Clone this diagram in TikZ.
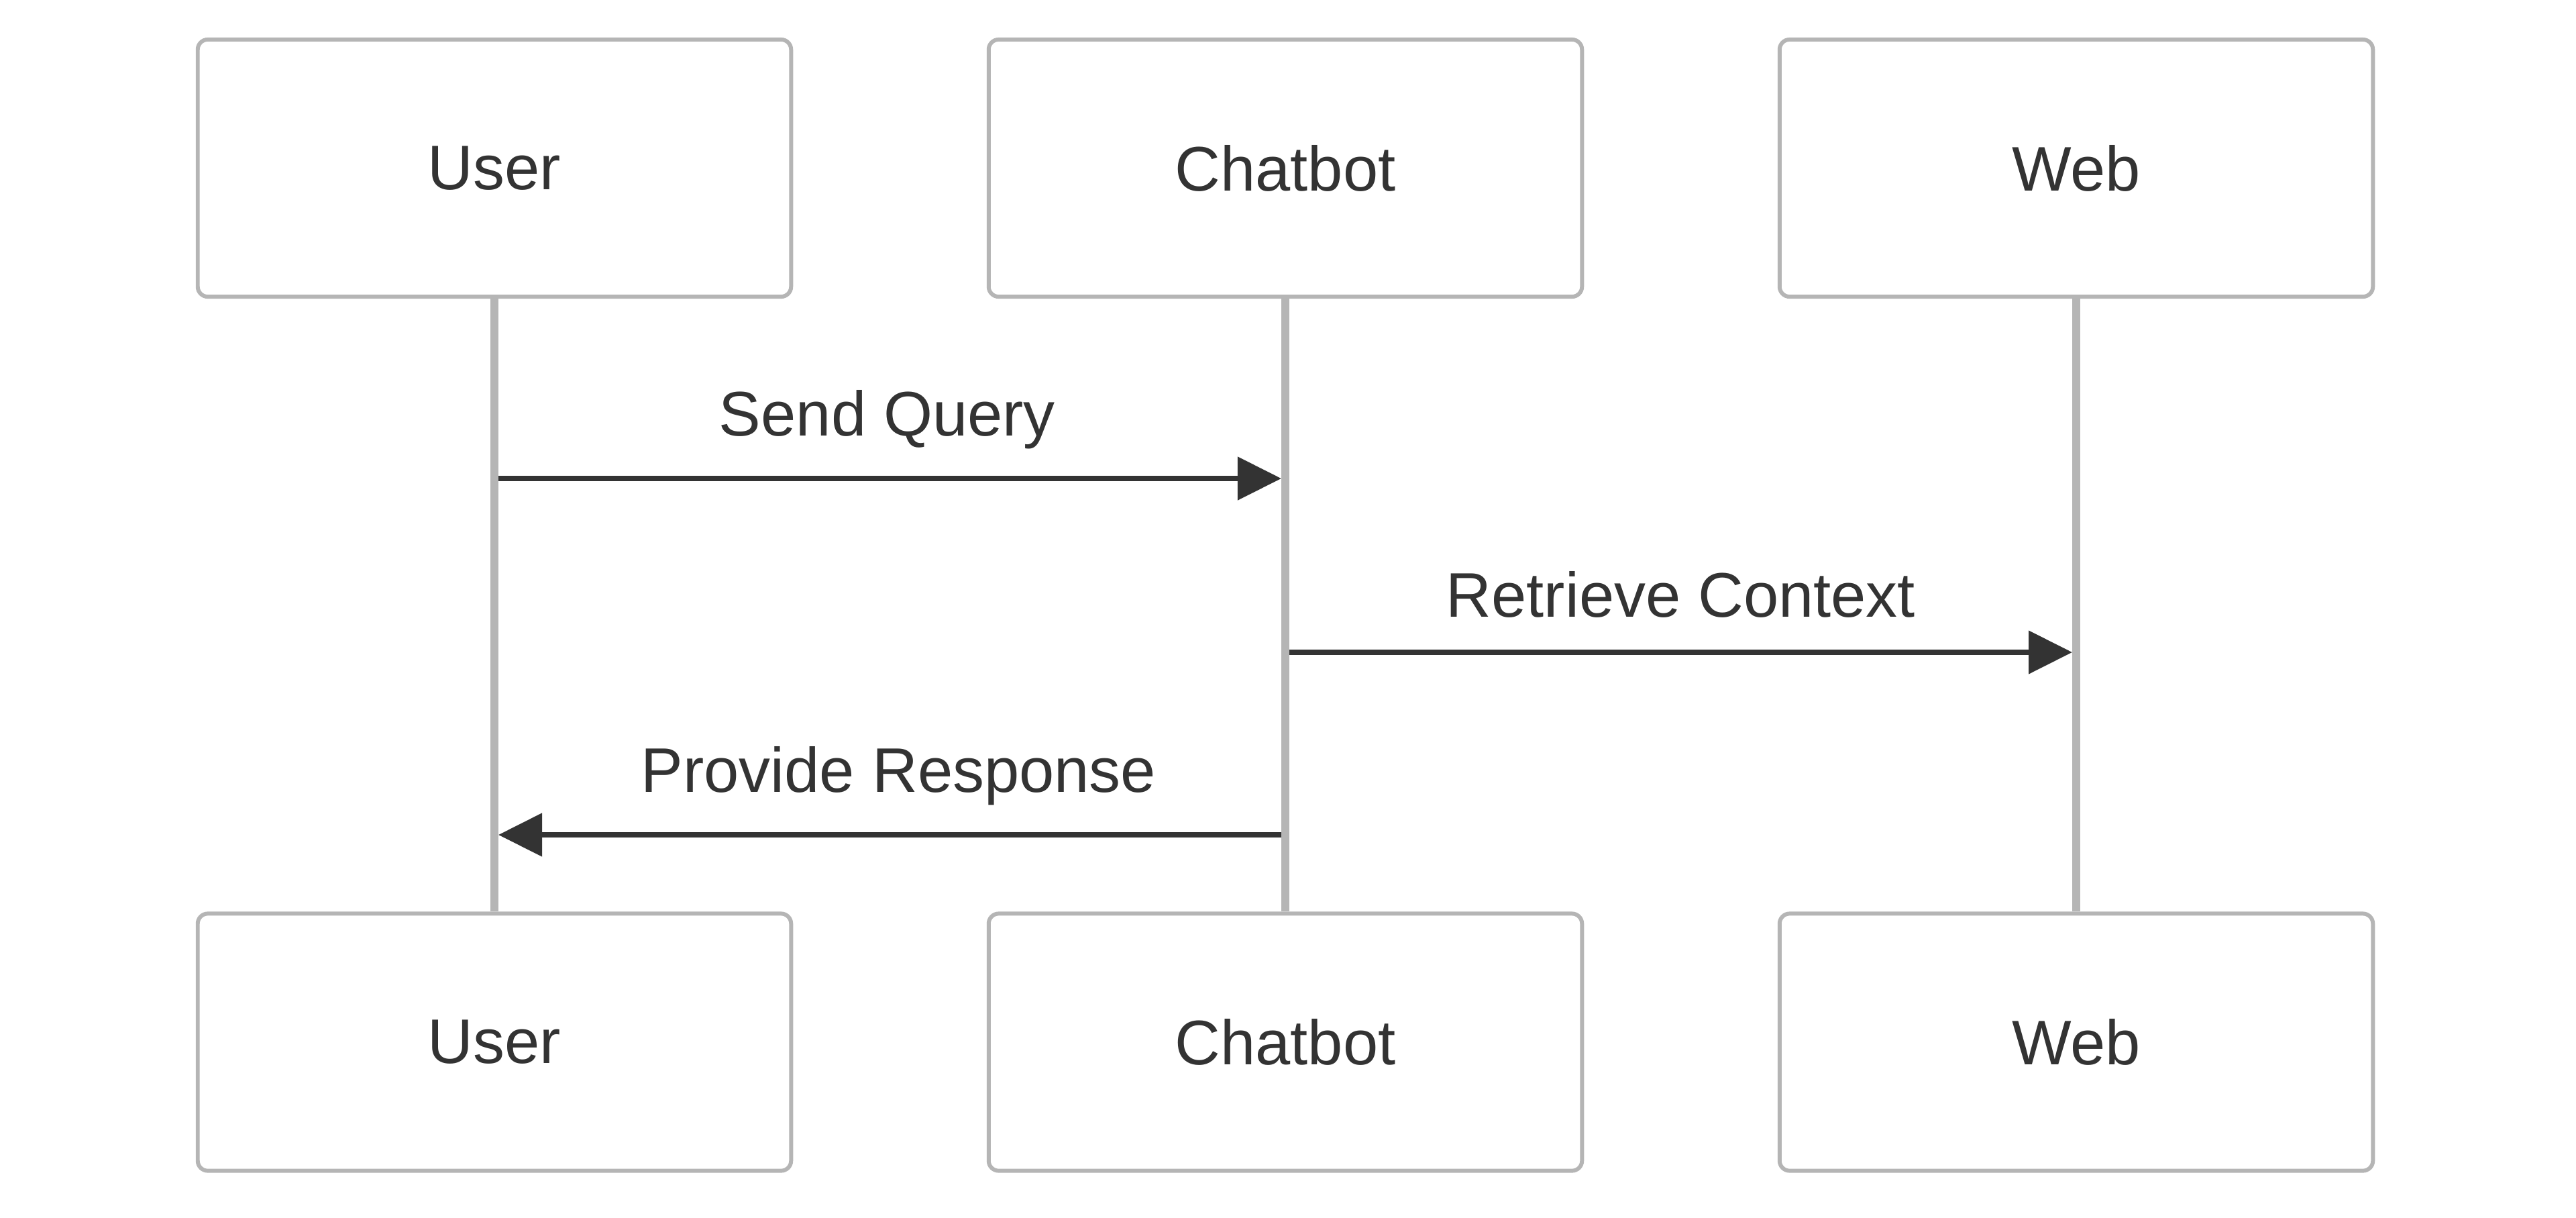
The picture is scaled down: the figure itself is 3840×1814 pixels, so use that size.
\documentclass[tikz,border=0pt]{standalone}
\usepackage{fontspec}
\setmainfont{Liberation Sans}
\usetikzlibrary{arrows.meta}
\definecolor{txt}{HTML}{333333}
\definecolor{edge}{HTML}{B5B5B5}
\begin{document}
\begin{tikzpicture}[x=0.01cm, y=-0.01cm,
  actor/.style={draw=edge, line width=1.7pt, rounded corners=0.15cm, fill=white,
    minimum width=8.84cm, minimum height=3.83cm, inner sep=0pt,
    text=txt, font=\fontsize{26.7}{32}\selectfont},
  life/.style={draw=edge, line width=3.4pt},
  msg/.style={draw=txt, line width=2.3pt, -{Triangle[length=0.65cm, width=0.63cm]}},
  lbl/.style={text=txt, font=\fontsize{26.7}{32}\selectfont, inner sep=0pt,
    midway, anchor=base, yshift=0.63cm}]
\useasboundingbox (0,0) rectangle (3840,1814);
\node[actor] (user) at (737,250.5) {User};
\node[actor] (chat) at (1916,250.5) {Chatbot};
\node[actor] (web) at (3095,250.5) {Web};
\node[actor] (user2) at (737,1553) {User};
\node[actor] (chat2) at (1916,1553) {Chatbot};
\node[actor] (web2) at (3095,1553) {Web};

\draw[life] (user) -- (user2);
\draw[life] (chat) -- (chat2);
\draw[life] (web) -- (web2);

\coordinate (q1) at (743,713);
\coordinate (q2) at (1910,713);
\coordinate (r1) at (1922,972);
\coordinate (r2) at (3089,972);
\coordinate (p1) at (1910,1244);
\coordinate (p2) at (743,1244);

\draw[msg] (q1) -- node[lbl, xshift=-0.04cm] (ql) {Send Query} (q2);
\draw[msg] (r1) -- node[lbl, yshift=-0.11cm] (rl) {Retrieve Context} (r2);
\draw[msg] (p1) -- node[lbl, xshift=0.13cm] (pl) {Provide Response} (p2);
\end{tikzpicture}
\end{document}
